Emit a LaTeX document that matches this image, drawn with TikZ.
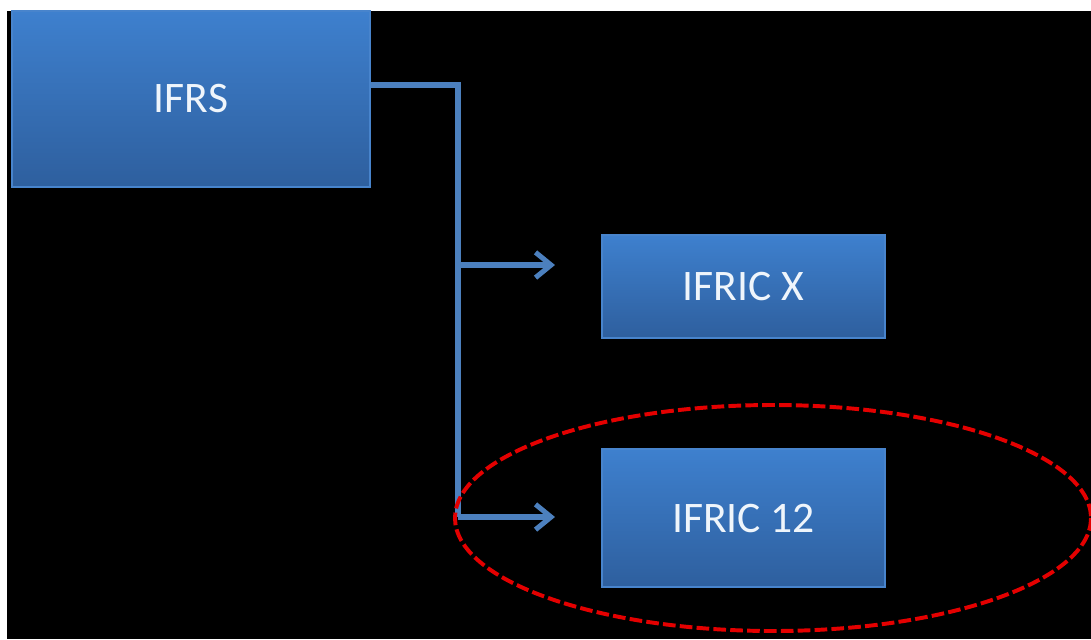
\documentclass[tikz,border=0pt]{standalone}
\usepackage{fontspec}
\newfontfamily\boxfont{Carlito}
\usetikzlibrary{arrows.meta}
\definecolor{boxtop}{RGB}{62,128,206}
\definecolor{boxbot}{RGB}{46,95,158}
\definecolor{boxrim}{RGB}{72,132,204}
\definecolor{linkblue}{RGB}{76,128,190}
\definecolor{ringred}{RGB}{228,0,0}
\begin{document}
\begin{tikzpicture}[x=0.025cm,y=-0.025cm,
  std/.style={draw=boxrim,line width=0.8pt,top color=boxtop,bottom color=boxbot,
    text=white!92!boxtop,font=\boxfont\fontsize{31}{36}\selectfont,inner sep=0pt},
  link/.style={draw=linkblue,line width=3.6pt},
  tip/.style={-{Straight Barb[length=11pt,width=18pt]}}]
\useasboundingbox (0,0) rectangle (1091,639);
\fill[white] (0,0) rectangle (1091,639);
\fill[black] (7,11) rectangle (1091,639);

\node[std,minimum width=8.95cm,minimum height=4.4cm] (ifrs) at (191,99) {IFRS};
\node[std,minimum width=7.075cm,minimum height=2.575cm] (ifricx) at (743.5,286.5) {IFRIC X};
\node[std,minimum width=7.075cm,minimum height=3.45cm] (ifric12) at (743.5,518) {IFRIC 12};

\coordinate (out) at (ifrs.east |- 0,85);
\coordinate (foot) at (458,517);
\coordinate (tipx) at (555,265);
\coordinate (tip12) at (555,517);

\draw[link] (out) -| (foot);
\draw[link,tip] (foot |- tipx) -- (tipx);
\draw[link,tip] (foot) -- (tip12);

\draw[ringred,line width=2.8pt,dash pattern=on 9pt off 3pt] (773,518) ellipse [x radius=318,y radius=113];
\end{tikzpicture}
\end{document}
